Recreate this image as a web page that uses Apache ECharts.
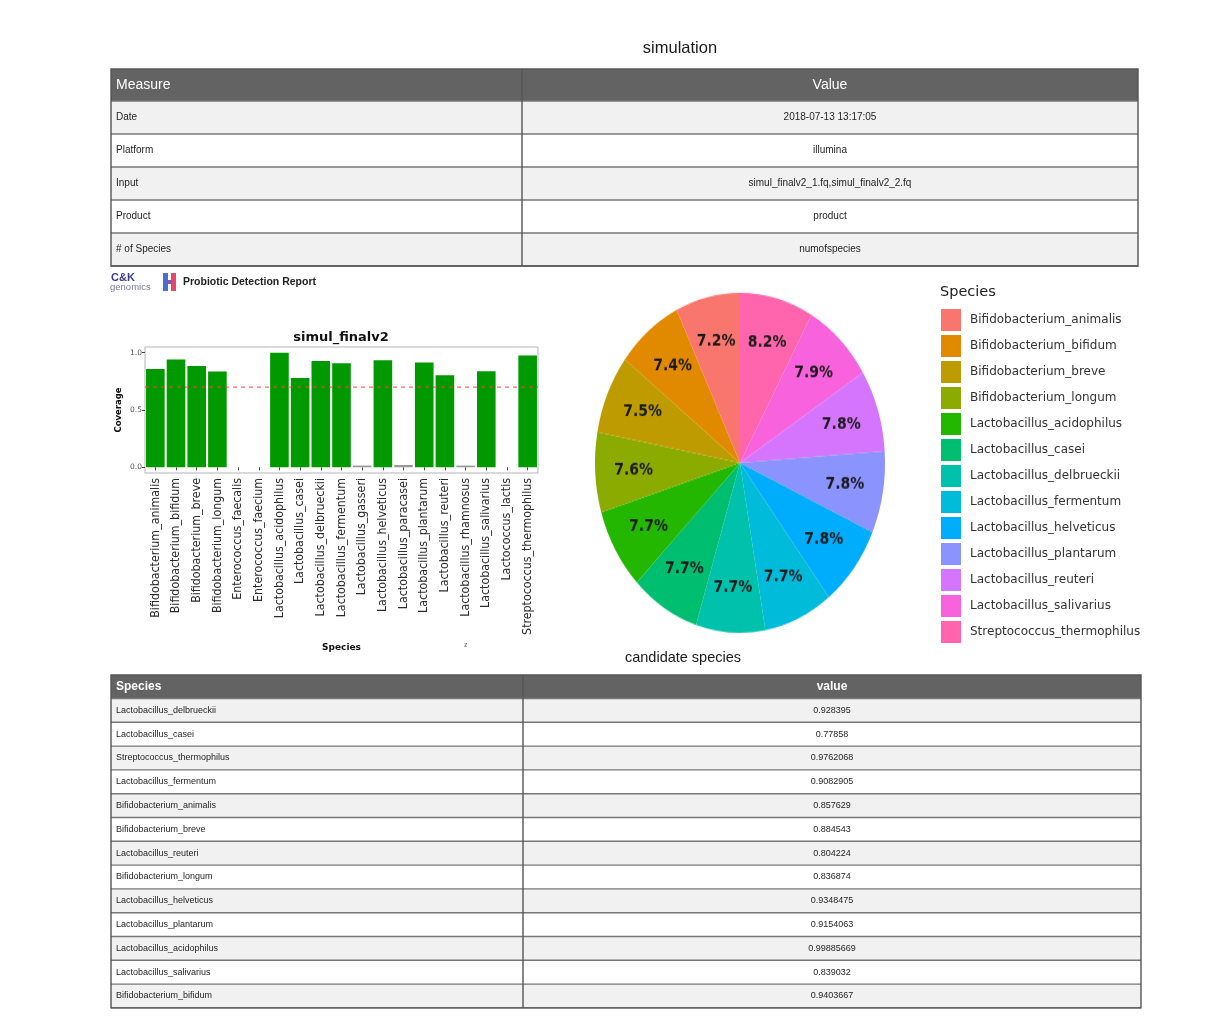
<!DOCTYPE html>
<html><head><meta charset="utf-8">
<script src="https://cdn.jsdelivr.net/npm/echarts@6/dist/echarts.min.js"></script>
<style>
html,body{margin:0;padding:0;background:#fff;}
#main{position:absolute;left:0;top:0;width:1214px;height:1022px;}
#pie{position:absolute;left:590px;top:287px;width:300px;height:300px;transform:scaleY(1.1724);transform-origin:0 0;}
</style></head><body>
<div id="main"></div><div id="pie"></div>
<script>
// ---------- data ----------
const reportTitle = 'simulation';
const measureHeader = ['Measure', 'Value'];
const measureNames = ['Date', 'Platform', 'Input', 'Product', '# of Species'];
const measureValues = ['2018-07-13 13:17:05', 'illumina', 'simul_finalv2_1.fq,simul_finalv2_2.fq', 'product', 'numofspecies'];

const barTitle = 'simul_finalv2';
const barCategories = ['Bifidobacterium_animalis','Bifidobacterium_bifidum','Bifidobacterium_breve','Bifidobacterium_longum','Enterococcus_faecalis','Enterococcus_faecium','Lactobacillus_acidophilus','Lactobacillus_casei','Lactobacillus_delbrueckii','Lactobacillus_fermentum','Lactobacillus_gasseri','Lactobacillus_helveticus','Lactobacillus_paracasei','Lactobacillus_plantarum','Lactobacillus_reuteri','Lactobacillus_rhamnosus','Lactobacillus_salivarius','Lactococcus_lactis','Streptococcus_thermophilus'];
const coverageValues = [0.857629, 0.9403667, 0.884543, 0.836874, 0, 0, 0.99885669, 0.77858, 0.928395, 0.9082905, 0.015, 0.9348475, 0.02, 0.9154063, 0.804224, 0.015, 0.839032, 0, 0.9762068];
const coverageThreshold = 0.7;
const yTickValues = [0, 0.5, 1.0];

const pieSpecies = ['Bifidobacterium_animalis','Bifidobacterium_bifidum','Bifidobacterium_breve','Bifidobacterium_longum','Lactobacillus_acidophilus','Lactobacillus_casei','Lactobacillus_delbrueckii','Lactobacillus_fermentum','Lactobacillus_helveticus','Lactobacillus_plantarum','Lactobacillus_reuteri','Lactobacillus_salivarius','Streptococcus_thermophilus'];
const piePercents = [7.2, 7.4, 7.5, 7.6, 7.7, 7.7, 7.7, 7.7, 7.8, 7.8, 7.8, 7.9, 8.2];
const speciesColors = ['#F8766D','#E18A00','#BE9C00','#8CAB00','#24B700','#00BE70','#00C1AB','#00BBDA','#00ACFC','#8B93FF','#D575FE','#F962DD','#FF65AC'];

const candidateTitle = 'candidate species';
const candidateHeader = ['Species', 'value'];
const candidateSpecies = ['Lactobacillus_delbrueckii','Lactobacillus_casei','Streptococcus_thermophilus','Lactobacillus_fermentum','Bifidobacterium_animalis','Bifidobacterium_breve','Lactobacillus_reuteri','Bifidobacterium_longum','Lactobacillus_helveticus','Lactobacillus_plantarum','Lactobacillus_acidophilus','Lactobacillus_salivarius','Bifidobacterium_bifidum'];
const candidateValues = ['0.928395','0.77858','0.9762068','0.9082905','0.857629','0.884543','0.804224','0.836874','0.9348475','0.9154063','0.99885669','0.839032','0.9403667'];

// ---------- helpers ----------
const SANS = '"Liberation Sans", Arial, sans-serif';
function txt(x, y, text, o) {
  o = o || {};
  return {
    type: 'text', x: x, y: y, silent: true,
    style: {
      text: text,
      fill: o.color || '#222',
      fontSize: o.size || 10,
      fontFamily: o.family || SANS,
      fontWeight: o.weight || 'normal',
      align: o.align || 'left', textAlign: o.align || 'left',
      verticalAlign: 'middle', textVerticalAlign: 'middle'
    }
  };
}
function table(cfg) {
  const els = [];
  const n = cfg.col1.length;
  const bodyTop = cfg.top + cfg.headH;
  const bottom = bodyTop + n * cfg.rowH;
  els.push({type:'rect', silent:true, shape:{x:cfg.x0, y:cfg.top, width:cfg.x1-cfg.x0, height:cfg.headH}, style:{fill:'#636363'}});
  for (let i = 0; i < n; i++) {
    els.push({type:'rect', silent:true, shape:{x:cfg.x0, y:bodyTop+i*cfg.rowH, width:cfg.x1-cfg.x0, height:cfg.rowH}, style:{fill: i % 2 === 0 ? '#f1f1f1' : '#ffffff'}});
  }
  for (let i = 0; i <= n; i++) {
    const y = bodyTop + i * cfg.rowH;
    els.push({type:'line', silent:true, shape:{x1:cfg.x0, y1:y, x2:cfg.x1, y2:y}, style:{stroke:'#777', lineWidth:1.4}});
  }
  els.push({type:'rect', silent:true, shape:{x:cfg.x0, y:cfg.top, width:cfg.x1-cfg.x0, height:bottom-cfg.top}, style:{fill:null, stroke:'#555', lineWidth:1.4}});
  els.push({type:'line', silent:true, shape:{x1:cfg.xd, y1:cfg.top, x2:cfg.xd, y2:bottom}, style:{stroke:'#555', lineWidth:1.4}});
  const cx = (cfg.xd + cfg.x1) / 2;
  els.push(txt(cfg.x0 + 5, cfg.top + cfg.headH / 2, cfg.head[0], {color:'#fff', size:cfg.headSize, weight:cfg.headWeight}));
  els.push(txt(cx, cfg.top + cfg.headH / 2, cfg.head[1], {color:'#fff', size:cfg.headSize, weight:cfg.headWeight, align:'center'}));
  for (let i = 0; i < n; i++) {
    const y = bodyTop + (i + 0.5) * cfg.rowH;
    els.push(txt(cfg.x0 + 5, y, cfg.col1[i], {size:cfg.cellSize, color:'#1e1e1e'}));
    els.push(txt(cx, y, cfg.col2[i], {size:cfg.cellSize, color:'#1e1e1e', align:'center'}));
  }
  return els;
}

const graphics = [];
graphics.push(txt(680, 48, reportTitle, {size:16.5, color:'#1a1a1a', align:'center'}));
table({x0:111, x1:1138, xd:522, top:69, headH:32, rowH:33, head:measureHeader, col1:measureNames, col2:measureValues, headSize:14, headWeight:'normal', cellSize:10}).forEach(e => graphics.push(e));
table({x0:111, x1:1141, xd:523, top:675, headH:23.5, rowH:23.8, head:candidateHeader, col1:candidateSpecies, col2:candidateValues, headSize:12, headWeight:'bold', cellSize:9}).forEach(e => graphics.push(e));
graphics.push(txt(683, 658, candidateTitle, {size:14.5, color:'#1a1a1a', align:'center'}));

// logo
graphics.push(txt(111, 278, 'C&K', {size:11, weight:'bold', color:'#3b3a8a'}));
graphics.push(txt(110, 287, 'genomics', {size:9.5, color:'#7a7a9a'}));
graphics.push({type:'rect', silent:true, shape:{x:163, y:273, width:5, height:18}, style:{fill:'#4a6fd0'}});
graphics.push({type:'rect', silent:true, shape:{x:171, y:273, width:5, height:18}, style:{fill:'#e5486a'}});
graphics.push({type:'rect', silent:true, shape:{x:167, y:280, width:5, height:4}, style:{fill:'#8a56a8'}});
graphics.push(txt(183, 282, 'Probiotic Detection Report', {size:10.5, weight:'bold', color:'#222'}));

// bar chart titles
graphics.push(txt(341, 338, barTitle, {size:13, weight:'bold', color:'#111', family:'"DejaVu Sans", sans-serif', align:'center'}));
graphics.push(txt(464, 645, 'z', {size:7, color:'#666'}));
// legend title
graphics.push(txt(940, 292, 'Species', {size:14.5, color:'#222', family:'"DejaVu Sans", sans-serif'}));

const barData = coverageValues.map(v => ({ value: v, itemStyle: { color: v >= coverageThreshold ? '#009a00' : '#9a9a9a' } }));

const main = echarts.init(document.getElementById('main'));
main.setOption({
  animation: false,
  backgroundColor: '#ffffff',
  graphic: { elements: graphics },
  legend: {
    left: 941, top: 309, orient: 'vertical', icon: 'rect', padding: 0,
    itemWidth: 20, itemHeight: 22, itemGap: 4, selectedMode: false,
    textStyle: { fontSize: 12, fontFamily: '"DejaVu Sans", sans-serif', color: '#333', padding: [0, 0, 0, 4] },
    data: pieSpecies
  },
  grid: { left: 145, top: 347, width: 393, height: 126, show: true, borderColor: '#b5b5b5', borderWidth: 1, backgroundColor: '#fff', containLabel: false },
  xAxis: [{
    type: 'category', data: barCategories,
    axisLine: { show: false },
    axisTick: { show: true, length: 3, alignWithLabel: true, lineStyle: { color: '#444' } },
    axisLabel: { rotate: 90, interval: 0, margin: 5, fontSize: 12.3, fontFamily: '"DejaVu Sans Condensed", "DejaVu Sans", sans-serif', color: '#2b2b2b' },
    name: 'Species', nameLocation: 'middle', nameGap: 170,
    nameTextStyle: { fontSize: 9, fontWeight: 'bold', color: '#111', fontFamily: '"DejaVu Sans", sans-serif' }
  }, {
    // helper axis spanning the full panel width for the threshold line
    type: 'value', min: 0, max: 1, show: false
  }],
  yAxis: {
    type: 'value', min: -0.05, max: 1.05,
    splitLine: { show: false }, axisLine: { show: false },
    axisTick: { show: true, length: 3, customValues: yTickValues, lineStyle: { color: '#444' } },
    axisLabel: { customValues: yTickValues, formatter: v => v.toFixed(1), fontSize: 7.5, color: '#555', margin: 3, fontFamily: '"DejaVu Sans", sans-serif' },
    name: 'Coverage', nameLocation: 'middle', nameGap: 22, nameRotate: 90,
    nameTextStyle: { fontSize: 8.5, fontWeight: 'bold', color: '#111', fontFamily: '"DejaVu Sans", sans-serif' }
  },
  series: [
    {
      type: 'bar', data: barData, barCategoryGap: '10%', silent: true
    },
    {
      type: 'line', xAxisIndex: 1, silent: true, symbol: 'none', z: 5,
      color: '#ff3b3b',
      lineStyle: { color: '#ff3b3b', type: [4, 4], width: 1 },
      data: [[0, coverageThreshold], [1, coverageThreshold]]
    },
    {
      // key series for the legend (same species/colours as the pie)
      type: 'pie', name: 'speciesKey', center: [-200, -200], radius: 1, silent: true,
      label: { show: false }, labelLine: { show: false },
      data: pieSpecies.map((n, i) => ({ name: n, value: piePercents[i], itemStyle: { color: speciesColors[i] } }))
    }
  ]
});

// ---------- pie (stretched vertically into an ellipse) ----------
const pieChart = echarts.init(document.getElementById('pie'));
const pieSlices = pieSpecies.map((n, i) => ({ name: n, value: piePercents[i], itemStyle: { color: speciesColors[i] } })).reverse();
const pieLabels = pieSpecies.map((n, i) => ({ name: n, value: piePercents[i] })).reverse();
pieChart.setOption({
  animation: false,
  series: [
    {
      type: 'pie', center: ['50%', '50%'], radius: [0, 145], startAngle: 90, clockwise: true, silent: true,
      itemStyle: { borderWidth: 0 }, label: { show: false }, labelLine: { show: false },
      data: pieSlices
    },
    {
      type: 'pie', center: ['50%', '50%'], radius: [62, 145], startAngle: 90, clockwise: true, silent: true,
      percentPrecision: 1,
      itemStyle: { color: 'rgba(0,0,0,0)', borderWidth: 0 },
      label: { show: true, position: 'inside', formatter: '{d}%', fontSize: 14, fontWeight: 'bold', color: '#1a1a1a', fontFamily: '"DejaVu Sans", sans-serif' },
      labelLine: { show: false },
      data: pieLabels
    }
  ]
});
</script>
</body></html>
